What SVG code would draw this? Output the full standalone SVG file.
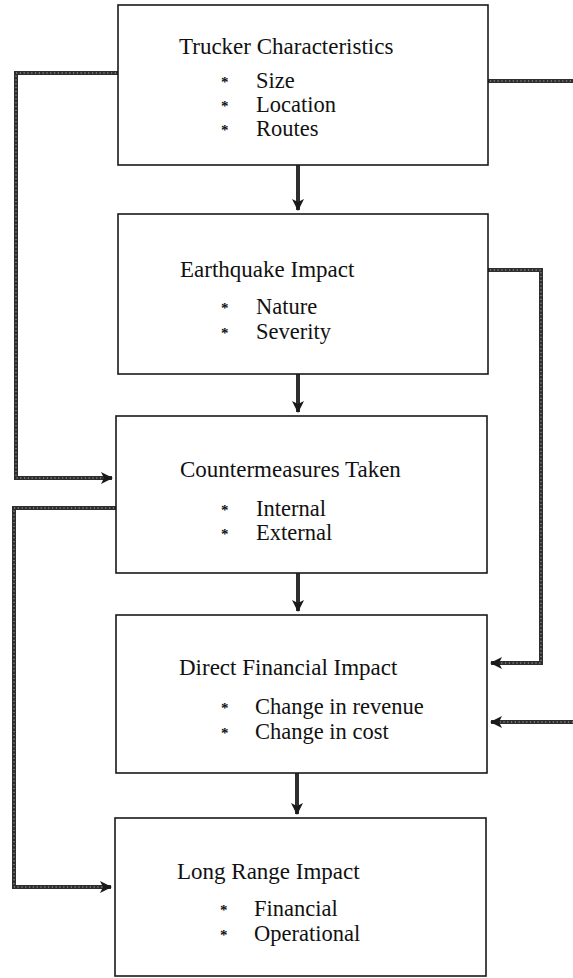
<svg xmlns="http://www.w3.org/2000/svg" width="573" height="978" viewBox="0 0 573 978">
<defs>
<style>
.box{fill:#fff;stroke:#1a1a1a;stroke-width:1.6}
.t{font-family:"Liberation Serif","Times New Roman",serif;font-size:23px;fill:#111}
.b{font-family:"Liberation Serif","Times New Roman",serif;font-size:22.5px;fill:#111}
.s{font-family:"Liberation Serif","Times New Roman",serif;font-size:15px;font-weight:bold;fill:#111}
.c{fill:none;stroke:#2e2e2e;stroke-width:4;stroke-linejoin:miter}
.d{fill:none;stroke:#fff;stroke-width:0.9;stroke-dasharray:1.2 2.6;opacity:0.7}
</style>
<marker id="ah" viewBox="0 0 12 12" refX="11" refY="6" markerWidth="12" markerHeight="12" markerUnits="userSpaceOnUse" orient="auto">
<path d="M0,0 L12,6 L0,12 L3,6 Z" fill="#1a1a1a"/>
</marker>
</defs>
<rect width="573" height="978" fill="#fff"/>
<g id="connectors">
<path id="c1" class="c" d="M118,73 H16 V478 H112" marker-end="url(#ah)"/>
<path id="c2" class="c" d="M116,508 H14 V887 H111" marker-end="url(#ah)"/>
<path id="c3" class="c" d="M488,81 H573"/>
<path id="c4" class="c" d="M488,270 H541 V663 H491" marker-end="url(#ah)"/>
<path id="c5" class="c" d="M573,722 H491" marker-end="url(#ah)"/>
<path class="c" d="M298,165 V210" marker-end="url(#ah)"/>
<path class="c" d="M298,374 V412" marker-end="url(#ah)"/>
<path class="c" d="M298,573 V611" marker-end="url(#ah)"/>
<path class="c" d="M297,773 V814" marker-end="url(#ah)"/>
<path class="d" d="M116,73 H16 V478 H104 M114,508 H14 V887 H103 M490,81 H573 M490,270 H541 V663 H500 M573,722 H500"/>
</g>
<g id="trucker">
<rect class="box" x="118" y="5" width="370" height="160"/>
<text class="t" x="179" y="54">Trucker Characteristics</text>
<text class="s" x="221" y="87">*</text><text class="b" x="256" y="88">Size</text>
<text class="s" x="221" y="111">*</text><text class="b" x="256" y="112">Location</text>
<text class="s" x="221" y="135">*</text><text class="b" x="256" y="136">Routes</text>
</g>
<g id="earthquake">
<rect class="box" x="118" y="214" width="370" height="160"/>
<text class="t" x="180" y="277">Earthquake Impact</text>
<text class="s" x="221" y="313">*</text><text class="b" x="256" y="314">Nature</text>
<text class="s" x="221" y="338">*</text><text class="b" x="256" y="339">Severity</text>
</g>
<g id="countermeasures">
<rect class="box" x="116" y="416" width="371" height="157"/>
<text class="t" x="180" y="477">Countermeasures Taken</text>
<text class="s" x="221" y="515">*</text><text class="b" x="256" y="516">Internal</text>
<text class="s" x="221" y="539">*</text><text class="b" x="256" y="540">External</text>
</g>
<g id="direct">
<rect class="box" x="116" y="615" width="371" height="158"/>
<text class="t" x="179" y="675">Direct Financial Impact</text>
<text class="s" x="221" y="713">*</text><text class="b" x="255" y="714">Change in revenue</text>
<text class="s" x="221" y="738">*</text><text class="b" x="255" y="739">Change in cost</text>
</g>
<g id="longrange">
<rect class="box" x="115" y="818" width="371" height="158"/>
<text class="t" x="177" y="879">Long Range Impact</text>
<text class="s" x="220" y="915">*</text><text class="b" x="254" y="916">Financial</text>
<text class="s" x="220" y="940">*</text><text class="b" x="254" y="941">Operational</text>
</g>
</svg>
